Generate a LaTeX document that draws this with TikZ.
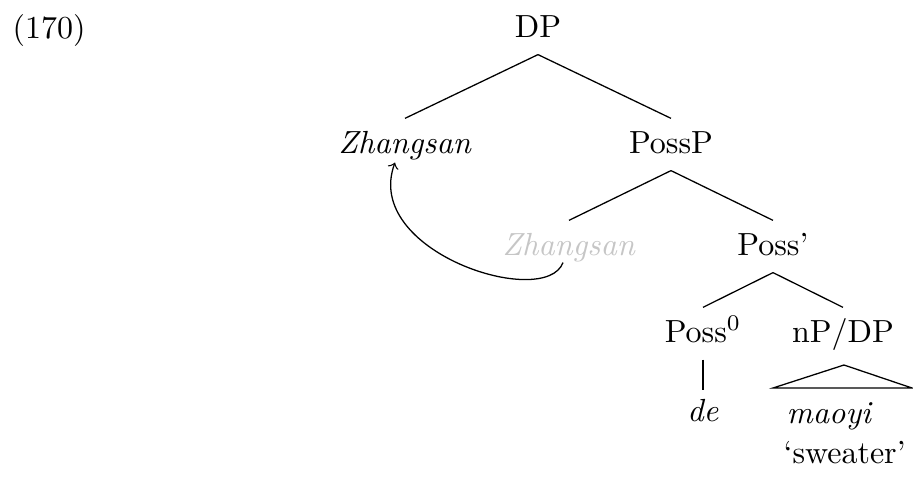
\documentclass[tikz,border=0pt]{standalone}
\usepackage{tikz}
\usetikzlibrary{calc}
\tikzset{tnode/.style={anchor=base,inner sep=3.8pt,text height=6.83pt,text depth=1.5pt},
  trace/.style={text=gray!45}}
\newcommand{\treenode}[4]{\node[tnode] (#1) at ( #2 , #3 ) {#4};}
\newcommand{\branch}[2]{\draw (#1.south) -- (#2.north);}

\begin{document}
\begin{tikzpicture}[x=0.3125pt,y=-0.3125pt]
        \useasboundingbox (0,0) rectangle (913,478);
        \node[anchor=base west,inner sep=0pt] (ex) at (12,38) {(170)};

        \treenode{DP}{538}{37}{DP}
        \treenode{Zh}{405}{153}{\textit{Zhangsan}}
        \treenode{PossP}{671}{153}{PossP}
        \branch{DP}{Zh}
        \branch{DP}{PossP}

        \node[tnode,trace] (ZhT) at (569,255) {\textit{Zhangsan}};
        \treenode{PossBar}{773}{255}{Poss'}
        \branch{PossP}{ZhT}
        \branch{PossP}{PossBar}

        \treenode{Poss0}{703}{342}{Poss$^0$}
        \treenode{nP}{843}{342}{nP/DP}
        \branch{PossBar}{Poss0}
        \branch{PossBar}{nP}

        \treenode{de}{703}{421}{\textit{de}}
        \draw[shorten >=-1pt] (Poss0.south) -- (de.north);

        % triangle under nP/DP
        \coordinate (triT) at (844,365);
        \coordinate (triL) at (773,388);
        \coordinate (triR) at (912,388);
        \draw (triT) -- (triL) -- (triR) -- cycle;
        \node[anchor=base west,inner sep=0pt] (maoyi) at (786,423) {\textit{maoyi}};
        \node[anchor=base west,inner sep=0pt] (gloss) at (783,463) {`sweater'};

        % movement arrow
        \draw[->] ($(ZhT.south)+(-6,-10)$) .. controls (545,310) and (362,252) .. ($(Zh.south)+(-10,-8)$);
\end{tikzpicture}
\end{document}
